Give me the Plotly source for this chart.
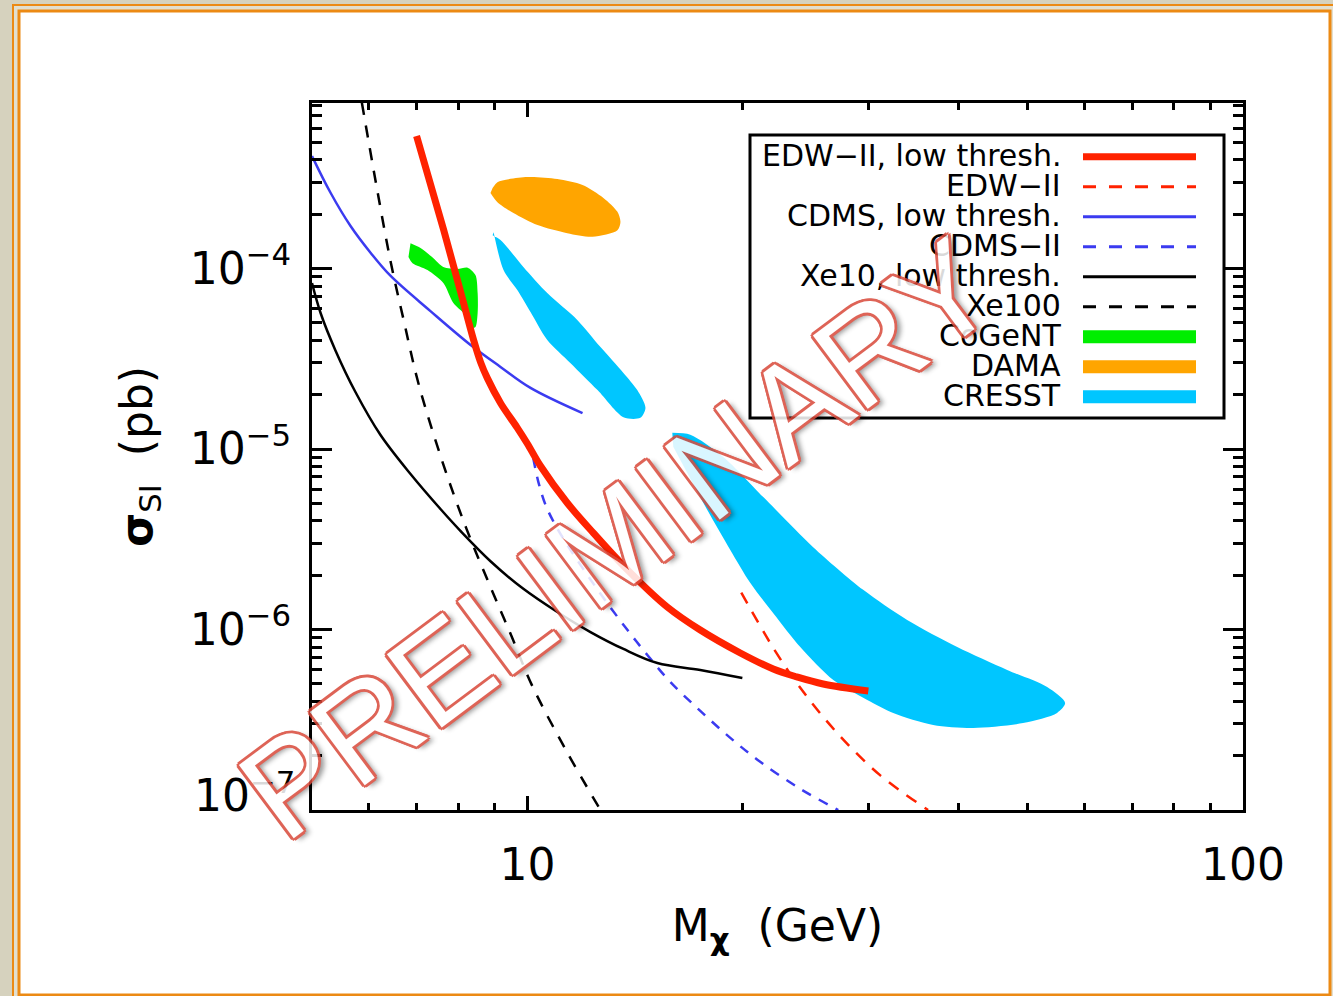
import plotly.graph_objects as go

# ---- limit curves (WIMP mass in GeV, SI cross-section in pb) ----
edw_low_mass = [7.0, 7.64, 8.06, 8.41, 8.60, 8.79, 9.17, 9.68, 10.0, 10.43, 11.37, 12.37,
                13.8, 15.69, 17.44, 19.84, 22.06, 23.8, 25.9, 29.95]
edw_low_sigma = [5.42e-4, 1.63e-4, 7.5e-5, 4.02e-5, 3.03e-5, 2.47e-5, 1.80e-5, 1.31e-5,
                 1.07e-5, 8.05e-6, 5.02e-6, 3.42e-6, 2.14e-6, 1.33e-6, 9.93e-7, 7.41e-7,
                 6.04e-7, 5.46e-7, 4.99e-7, 4.56e-7]

edw2_mass = [19.9, 22.06, 24.06, 27.1, 31.1, 36.3]
edw2_sigma = [1.6e-6, 7.9e-7, 4.75e-7, 2.67e-7, 1.56e-7, 1.0e-7]

cdms_low_mass = [5.0, 5.31, 5.66, 6.04, 6.44, 7.32, 8.33, 9.17, 10.1, 11.94]
cdms_low_sigma = [4.2e-4, 2.62e-4, 1.72e-4, 1.22e-4, 9.09e-5, 5.81e-5, 3.77e-5, 2.85e-5,
                  2.18e-5, 1.58e-5]

cdms2_mass = [10.19, 10.36, 10.6, 10.94, 11.37, 11.86, 12.37, 12.93, 13.8, 14.71, 15.84,
              17.44, 19.21, 21.15, 24.06, 27.19]
cdms2_sigma = [8.92e-6, 6.56e-6, 4.9e-6, 3.79e-6, 2.94e-6, 2.28e-6, 1.79e-6, 1.4e-6, 9.93e-7,
               7.22e-7, 5.12e-7, 3.54e-7, 2.51e-7, 1.85e-7, 1.31e-7, 1.0e-7]

xe10_low_mass = [5.0, 5.14, 5.39, 5.75, 6.23, 6.865, 7.56, 8.06, 8.88, 9.87, 11.01, 12.25,
                 13.62, 15.19, 17.44, 19.97]
xe10_low_sigma = [8.3e-5, 5.67e-5, 3.53e-5, 2.07e-5, 1.20e-5, 7.27e-6, 4.65e-6, 3.52e-6,
                  2.39e-6, 1.68e-6, 1.25e-6, 9.68e-7, 7.8e-7, 6.52e-7, 5.97e-7, 5.38e-7]

xe100_mass = [5.87, 6.15, 6.44, 6.73, 7.04, 7.61, 8.22, 8.88, 9.50, 10.16, 11.34, 12.65]
xe100_sigma = [8.3e-4, 2.90e-4, 1.09e-4, 4.99e-5, 2.32e-5, 8.47e-6, 3.61e-6, 1.72e-6,
               9.2e-7, 4.86e-7, 2.12e-7, 1.0e-7]

# ---- allowed regions (closed contours) ----
cogent_mass = [6.865, 7.09, 7.39, 7.63, 7.98, 8.25, 8.46, 8.52, 8.52, 8.46, 8.35, 8.25, 7.88,
               7.63, 7.25, 6.91, 6.82]
cogent_sigma = [1.38e-4, 1.30e-4, 1.14e-4, 1.02e-4, 9.93e-5, 1.01e-4, 9.2e-5, 7.31e-5,
                5.67e-5, 4.74e-5, 4.68e-5, 5.38e-5, 6.44e-5, 8.31e-5, 9.81e-5, 1.07e-4, 1.16e-4]

dama_mass = [8.94, 9.08, 10.0, 11.01, 11.94, 12.77, 13.36, 13.49, 13.36, 12.33, 11.37, 10.33,
             9.56, 9.08, 8.88]
dama_sigma = [2.79e-4, 3.01e-4, 3.21e-4, 3.13e-4, 2.90e-4, 2.46e-4, 2.06e-4, 1.81e-4, 1.63e-4,
              1.50e-4, 1.57e-4, 1.74e-4, 2.03e-4, 2.33e-4, 2.62e-4]

cresst_lo_mass = [8.97, 9.26, 9.68, 10.1, 10.66, 11.48, 12.53, 13.62, 14.38, 14.62, 14.24,
                  13.62, 12.65, 11.74, 10.66, 9.87, 9.17, 8.94]
cresst_lo_sigma = [1.59e-4, 9.81e-5, 7.6e-5, 5.74e-5, 4.02e-5, 3.0e-5, 2.12e-5, 1.5e-5,
                   1.49e-5, 1.69e-5, 2.12e-5, 2.64e-5, 3.67e-5, 5.19e-5, 7.31e-5, 1.02e-4,
                   1.44e-4, 1.53e-4]

cresst_hi_mass = [15.94, 16.89, 18.78, 21.36, 25.08, 29.46, 33.94, 39.87, 46.82, 53.25, 56.42,
                  54.98, 49.28, 41.98, 36.9, 32.45, 29.85, 26.76, 24.06, 22.06, 20.49, 19.21,
                  17.84, 16.73, 15.99]
cresst_hi_sigma = [1.23e-5, 1.2e-5, 9.04e-6, 5.42e-6, 2.86e-6, 1.66e-6, 1.13e-6, 8.0e-7,
                   5.97e-7, 4.8e-7, 3.92e-7, 3.45e-7, 3.03e-7, 2.85e-7, 2.96e-7, 3.45e-7,
                   4.07e-7, 5.25e-7, 8.0e-7, 1.23e-6, 1.81e-6, 2.76e-6, 4.59e-6, 7.36e-6,
                   1.03e-5]

# ---- axis ticks ----
x_major = [10, 100]
x_major_text = ["10", "100"]
x_minor = [6, 7, 8, 9, 20, 30, 40, 50, 60, 70, 80, 90]
y_major = [1e-6, 1e-5, 1e-4]
y_major_text = ["10<sup>\u22126</sup>", "10<sup>\u22125</sup>", "10<sup>\u22124</sup>"]
y_bottom_text = "10<sup>\u22127</sup>"   # label of the lower axis edge (1e-7), set slightly higher
y_minor = [k * 10.0 ** e for e in (-7, -6, -5, -4) for k in range(2, 10)]

legend_labels = ["EDW\u2212II, low thresh.", "EDW\u2212II", "CDMS, low thresh.", "CDMS\u2212II",
                 "Xe10, low thresh.", "Xe100", "CoGeNT", "DAMA", "CRESST"]

RED = "#ff2200"
BLUE = "#3b3bf0"
BLACK = "#000000"
GREEN = "#00ee00"
ORANGE = "#ffa500"
CYAN = "#00c6ff"
FRAME = "#ec8a14"
FONT = "DejaVu Sans"

W, H = 1333, 996
PL, PR, PT, PB = 312, 1243, 103, 810


def ux(xp):
    return (xp - PL) / (PR - PL)


def uy(yp):
    return (PB - yp) / (PB - PT)


fig = go.Figure()


def region(mass, sigma, color):
    fig.add_trace(go.Scatter(x=mass, y=sigma, mode="lines", fill="toself", fillcolor=color,
                             line=dict(width=0, color=color, shape="spline", smoothing=0.8),
                             hoverinfo="skip", showlegend=False))


def curve(mass, sigma, color, width, dash="solid"):
    fig.add_trace(go.Scatter(x=mass, y=sigma, mode="lines",
                             line=dict(width=width, color=color, dash=dash, shape="spline",
                                       smoothing=1.0),
                             hoverinfo="skip", showlegend=False))


region(cresst_hi_mass, cresst_hi_sigma, CYAN)
region(cresst_lo_mass, cresst_lo_sigma, CYAN)
region(dama_mass, dama_sigma, ORANGE)
region(cogent_mass, cogent_sigma, GREEN)

curve(xe100_mass, xe100_sigma, BLACK, 2.5, "12px,11px")
curve(cdms2_mass, cdms2_sigma, BLUE, 2.5, "10px,9px")
curve(edw2_mass, edw2_sigma, RED, 2.5, "12px,10px")
curve(xe10_low_mass, xe10_low_sigma, BLACK, 2.5)
curve(cdms_low_mass, cdms_low_sigma, BLUE, 2.5)
curve(edw_low_mass, edw_low_sigma, RED, 7)

shapes = [
    # slide frame
    dict(type="rect", xref="paper", yref="paper", x0=ux(13), x1=ux(1350), y0=uy(5), y1=uy(1010),
         line=dict(color=FRAME, width=2), fillcolor="#e2dfcf", layer="below"),
    dict(type="rect", xref="paper", yref="paper", x0=ux(19), x1=ux(1330), y0=uy(11), y1=uy(995),
         line=dict(color=FRAME, width=3), fillcolor="white", layer="below"),
    # legend box
    dict(type="rect", xref="paper", yref="paper", x0=ux(750), x1=ux(1224), y0=uy(135),
         y1=uy(418), line=dict(color="black", width=3), layer="above"),
]

legend_styles = [
    (RED, 7, "solid"), (RED, 3, "13px,13px"), (BLUE, 3, "solid"), (BLUE, 3, "13px,13px"),
    (BLACK, 3, "solid"), (BLACK, 3, "13px,13px"), (GREEN, 13, "solid"), (ORANGE, 13, "solid"),
    (CYAN, 13, "solid"),
]

annotations = []
for i, (label, (col, w, dash)) in enumerate(zip(legend_labels, legend_styles)):
    row = 156.7 + 30 * i
    shapes.append(dict(type="line", xref="paper", yref="paper", x0=ux(1083), x1=ux(1196),
                       y0=uy(row), y1=uy(row), line=dict(color=col, width=w, dash=dash),
                       layer="above"))
    annotations.append(dict(text=label, xref="paper", yref="paper", x=ux(1063), y=uy(row - 1.5),
                            xanchor="right", yanchor="middle", showarrow=False,
                            font=dict(family=FONT, size=30, color="black")))

# bottom y label, lifted so it sits inside the frame corner
annotations.append(dict(text=y_bottom_text, xref="paper", yref="paper", x=ux(296),
                        y=uy(822), xanchor="right", yanchor="bottom", showarrow=False,
                        borderpad=0, font=dict(family=FONT, size=44, color="black")))

# watermark
OUT = "#d9493a"
outline = ", ".join(f"{dx}px {dy}px 0 {OUT}" for dx, dy in
                    [(-2, -2), (2, -2), (-2, 2), (2, 2), (0, -3), (0, 3), (-3, 0), (3, 0)])
outline += ", 4px 5px 5px rgba(0,0,0,0.45)"
annotations.append(dict(text="PRELIMINARY", xref="paper", yref="paper",
                        x=ux(617), y=uy(539), xanchor="center", yanchor="middle",
                        showarrow=False, textangle=-36.8, opacity=0.85,
                        font=dict(family="Liberation Sans", size=133, color="white",
                                  shadow=outline)))

axis_common = dict(
    type="log", showgrid=False, zeroline=False, showline=True, linecolor="black",
    linewidth=3, mirror="allticks", ticks="inside", tickcolor="black", tickwidth=3,
    tickmode="array", tickfont=dict(family=FONT, size=44, color="black"),
)

fig.update_xaxes(**axis_common, range=[0.69897, 2.0], tickvals=x_major, ticktext=x_major_text,
                 ticklen=14, ticklabelstandoff=14,
                 minor=dict(tickmode="array", tickvals=x_minor, ticks="inside", ticklen=7,
                            tickwidth=2.5, tickcolor="black"),
                 title=dict(text="M<sub><b>\u03c7</b></sub>\u00a0\u00a0(GeV)", standoff=22,
                            font=dict(family=FONT, size=44, color="black")))
fig.update_yaxes(**axis_common, range=[-7, -3.083], tickvals=y_major, ticktext=y_major_text,
                 ticklen=20, ticklabelstandoff=9,
                 minor=dict(tickmode="array", tickvals=y_minor, ticks="inside", ticklen=10,
                            tickwidth=2.5, tickcolor="black"),
                 title=dict(text="<b>\u03c3</b><sub>SI</sub>\u00a0\u00a0(pb)", standoff=24,
                            font=dict(family=FONT, size=44, color="black")))

fig.update_layout(
    width=W, height=H, autosize=False,
    margin=dict(l=PL, r=W - PR, t=PT, b=H - PB),
    paper_bgcolor="#d6d2be", plot_bgcolor="white",
    showlegend=False, shapes=shapes, annotations=annotations,
    font=dict(family=FONT, color="black"),
)

fig.write_html("out.html")
